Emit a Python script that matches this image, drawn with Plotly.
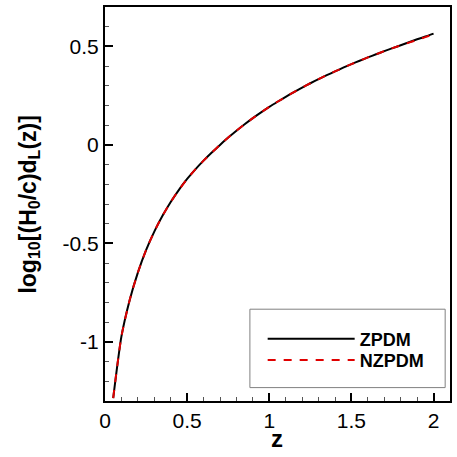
import plotly.graph_objects as go

z = [0.05, 0.10, 0.15, 0.20, 0.25, 0.30, 0.35, 0.40, 0.45, 0.50,
     0.55, 0.60, 0.65, 0.70, 0.75, 0.80, 0.85, 0.90, 0.95, 1.00,
     1.05, 1.10, 1.15, 1.20, 1.25, 1.30, 1.35, 1.40, 1.45, 1.50,
     1.55, 1.60, 1.65, 1.70, 1.75, 1.80, 1.85, 1.90, 1.95, 2.00]
zpdm = [-1.285, -0.972, -0.788, -0.648, -0.534, -0.440, -0.360, -0.290, -0.228, -0.173,
        -0.124, -0.080, -0.039, 0.000, 0.037, 0.072, 0.105, 0.136, 0.165, 0.193,
        0.219, 0.244, 0.268, 0.291, 0.313, 0.334, 0.354, 0.373, 0.392, 0.410,
        0.427, 0.444, 0.460, 0.476, 0.491, 0.506, 0.521, 0.536, 0.550, 0.565]
nzpdm = [-1.285, -0.972, -0.788, -0.648, -0.534, -0.440, -0.360, -0.290, -0.228, -0.173,
         -0.124, -0.080, -0.039, 0.000, 0.037, 0.072, 0.105, 0.136, 0.165, 0.193,
         0.219, 0.244, 0.268, 0.291, 0.313, 0.334, 0.354, 0.373, 0.392, 0.410,
         0.427, 0.444, 0.460, 0.476, 0.491, 0.505, 0.519, 0.533, 0.547, 0.561]

x_ticks = [0, 0.5, 1, 1.5, 2]
x_labels = ["0", "0.5", "1", "1.5", "2"]
y_ticks = [-1, -0.5, 0, 0.5]
y_labels = ["-1", "-0.5", "0", "0.5"]

font = "Liberation Sans, Arial, Helvetica, sans-serif"

fig = go.Figure()
fig.add_trace(go.Scatter(x=z, y=zpdm, mode="lines", name="<b>ZPDM</b>", legend="legend",
                         line=dict(color="black", width=2, shape="spline", smoothing=0.6)))
fig.add_trace(go.Scatter(x=z, y=nzpdm, mode="lines", name="<b>NZPDM</b>", legend="legend2",
                         line=dict(color="#e00000", width=2, dash="8px,8px",
                                   shape="spline", smoothing=0.6)))

leg_common = dict(xanchor="left", yanchor="middle", borderwidth=0,
                  bgcolor="rgba(0,0,0,0)", font=dict(size=18, family=font),
                  itemwidth=87)

fig.update_layout(
    width=457, height=457,
    margin=dict(l=105, r=7, t=7, b=56, autoexpand=False),
    paper_bgcolor="white", plot_bgcolor="white",
    font=dict(family=font, color="black", size=21),
    showlegend=True,
    legend=dict(x=0.457, y=0.157, **leg_common),
    legend2=dict(x=0.457, y=0.103, **leg_common),
    shapes=[dict(type="rect", xref="paper", yref="paper",
                 x0=0.42, x1=0.986, y0=0.034, y1=0.233,
                 line=dict(color="#808080", width=1), fillcolor="white",
                 layer="below")],
    annotations=[
        dict(text="<b>z</b>", xref="paper", yref="paper", x=0.498, y=-0.094,
             showarrow=False, font=dict(size=24), xanchor="center", yanchor="middle"),
        dict(text="<b>log<sub>10</sub>[(H<sub>0</sub>/c)d<sub>L</sub>(z)]</b>",
             xref="paper", yref="paper", x=-0.2215, y=0.5, textangle=-90,
             showarrow=False, font=dict(size=23), xanchor="center", yanchor="middle"),
    ],
)
fig.update_xaxes(
    range=[0, 2.1], tickvals=x_ticks, ticktext=x_labels, automargin=False,
    ticks="inside", ticklen=8, tickwidth=1.5, tickcolor="black",
    showline=True, linecolor="black", linewidth=2, mirror=True,
    showgrid=False, zeroline=False,
    minor=dict(dtick=0.1, ticks="inside", ticklen=4, tickcolor="#555", tickwidth=1),
    tickfont=dict(size=21),
)
fig.update_yaxes(
    range=[-1.3, 0.7], tickvals=y_ticks, ticktext=y_labels, automargin=False,
    ticks="inside", ticklen=8, tickwidth=1.5, tickcolor="black",
    showline=True, linecolor="black", linewidth=2, mirror=True,
    showgrid=False, zeroline=False,
    minor=dict(dtick=0.1, ticks="inside", ticklen=4, tickcolor="#555", tickwidth=1),
    tickfont=dict(size=21),
)

fig.write_html("out.html", config={"displayModeBar": False},
               post_script="document.body.style.margin='0';document.body.style.overflow='hidden';")
